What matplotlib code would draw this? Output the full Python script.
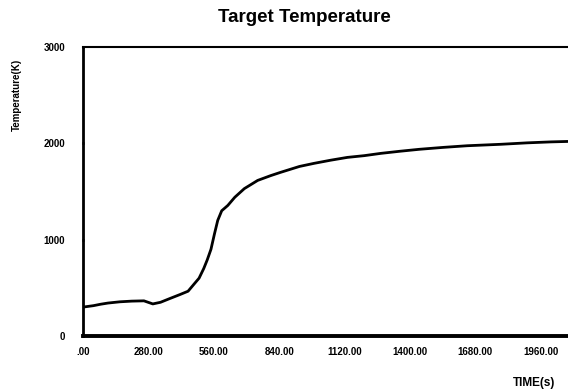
import matplotlib
matplotlib.use("Agg")
import matplotlib.pyplot as plt

time_s = [0, 45, 76, 107, 158, 209, 261, 299, 332, 373, 415, 450, 476, 497, 517, 532, 548, 563, 577, 594, 620, 650, 691, 748, 804, 845, 927, 989, 1061, 1132, 1204, 1276, 1358, 1440, 1543, 1645, 1789, 1902, 2004, 2082]
temp_k = [300, 315, 330, 342, 355, 362, 365, 333, 350, 390, 430, 465, 540, 600, 700, 790, 900, 1060, 1200, 1300, 1355, 1440, 1530, 1615, 1665, 1698, 1760, 1792, 1825, 1854, 1872, 1896, 1918, 1938, 1958, 1975, 1990, 2005, 2015, 2020]

xticks = [0, 280, 560, 840, 1120, 1400, 1680, 1960]
xtick_labels = [".00", "280.00", "560.00", "840.00", "1120.00", "1400.00", "1680.00", "1960.00"]
yticks = [0, 1000, 2000, 3000]

plt.rcParams['font.family'] = ['Liberation Sans', 'DejaVu Sans']
fig = plt.figure(figsize=(5.68, 3.92), dpi=100)
ax = fig.add_axes([83/568, 1-336/392, 1-83/568, (336-47)/392])
ax.plot(time_s, temp_k, color='black', lw=2)
ax.set_xlim(0, 2077)
ax.set_ylim(0, 3000)
ax.set_xticks(xticks)
ax.set_xticklabels(xtick_labels, fontsize=7, fontweight='bold')
ax.set_yticks(yticks)
ax.set_yticklabels([str(v) for v in yticks], fontsize=7, fontweight='bold')
ax.tick_params(axis='y', length=2, width=2, direction='inout', pad=12)
ax.tick_params(axis='x', length=0, pad=8)
ax.spines['right'].set_visible(False)
ax.spines['left'].set_linewidth(2)
ax.spines['bottom'].set_linewidth(2.8)
ax.spines['top'].set_linewidth(1.5)
fig.text(304/568, 1-18/392, "Target Temperature", ha='center', va='center', fontsize=13.5, fontweight='bold')
fig.text(17/568, 1-95/392, "Temperature(K)", rotation=90, ha='center', va='center', fontsize=7, fontweight='bold')
fig.text(534/568, 1-383/392, "TIME(s)", ha='center', va='center', fontsize=8.5, fontweight='bold')
fig.savefig("out.png", dpi=100)
